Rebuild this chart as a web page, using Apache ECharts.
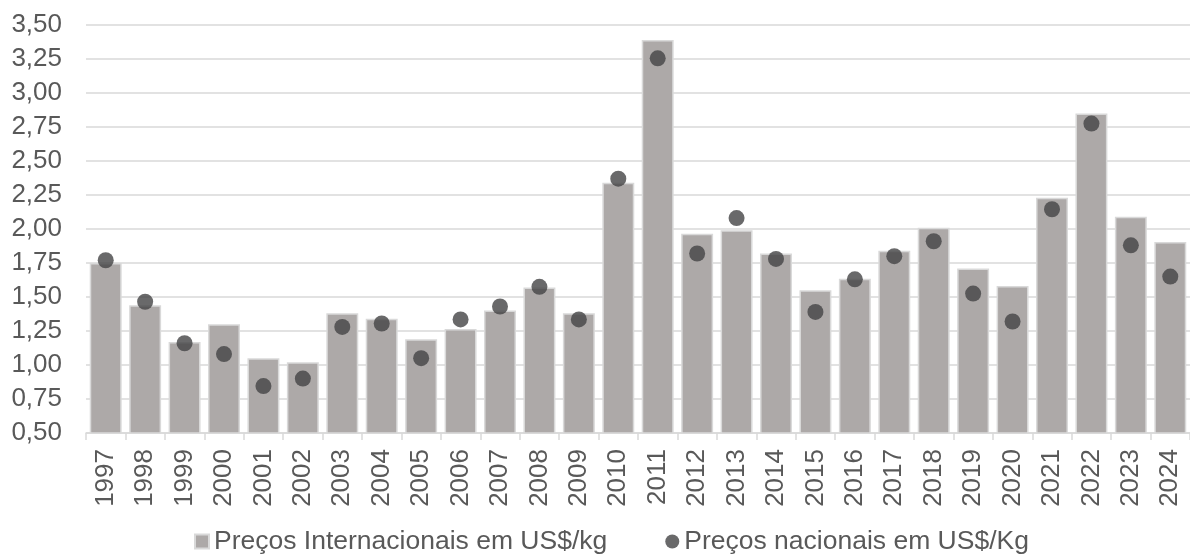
<!DOCTYPE html>
<html>
<head>
<meta charset="utf-8">
<script src="https://cdn.jsdelivr.net/npm/echarts@6/dist/echarts.min.js"></script>
<style>
  html, body { margin: 0; padding: 0; background: #ffffff; }
  #chart { width: 1190px; height: 554px; }
</style>
</head>
<body>
<div id="chart"></div>
<script>
// Years on the category axis
const years = ['1997','1998','1999','2000','2001','2002','2003','2004','2005','2006',
  '2007','2008','2009','2010','2011','2012','2013','2014','2015','2016',
  '2017','2018','2019','2020','2021','2022','2023','2024'];

// International prices, US$/kg (bars)
const internacionais = [1.75, 1.44, 1.17, 1.30, 1.05, 1.02, 1.38, 1.34, 1.19, 1.265,
  1.40, 1.57, 1.38, 2.34, 3.39, 1.965, 1.99, 1.82, 1.55, 1.635,
  1.84, 2.01, 1.71, 1.58, 2.23, 2.85, 2.09, 1.905];

// National prices, US$/kg (dots)
const nacionais = [1.77, 1.465, 1.16, 1.08, 0.845, 0.90, 1.28, 1.305, 1.05, 1.335,
  1.43, 1.575, 1.335, 2.37, 3.255, 1.82, 2.08, 1.78, 1.39, 1.63,
  1.80, 1.91, 1.525, 1.32, 2.145, 2.775, 1.88, 1.65];

// Value axis range and step
const yMin = 0.5, yMax = 3.5, yStep = 0.25;

const seriesNames = ['Preços Internacionais em US$/kg', 'Preços nacionais em US$/Kg'];

const font = "'Liberation Sans', Arial, sans-serif";
const textColor = '#595959';
const lineColor = '#d9d9d9';

const chart = echarts.init(document.getElementById('chart'), null, { renderer: 'canvas' });

chart.setOption({
  animation: false,
  backgroundColor: '#ffffff',
  textStyle: { fontFamily: font },
  grid: { left: 86, right: 0, top: 25, bottom: 121, containLabel: false },
  legend: {
    left: 189,
    top: 523,
    itemGap: 58,
    itemWidth: 14,
    itemHeight: 14,
    textStyle: { fontFamily: font, fontSize: 26.5, color: textColor },
    data: [
      { name: seriesNames[0], icon: 'rect' },
      { name: seriesNames[1], icon: 'circle' }
    ]
  },
  xAxis: {
    type: 'category',
    data: years,
    axisLine: { show: true, lineStyle: { color: lineColor, width: 1.5 } },
    axisTick: { show: true, length: 7, lineStyle: { color: lineColor, width: 1.5 } },
    axisLabel: {
      rotate: 90,
      fontFamily: font,
      fontSize: 26,
      color: textColor,
      margin: 16,
      interval: 0
    }
  },
  yAxis: {
    type: 'value',
    min: yMin,
    max: yMax,
    interval: yStep,
    axisLine: { show: false },
    axisTick: { show: false },
    splitLine: { lineStyle: { color: lineColor, width: 1.5 } },
    axisLabel: {
      fontFamily: font,
      fontSize: 26,
      color: textColor,
      margin: 24,
      formatter: v => v.toFixed(2).replace('.', ',')
    }
  },
  series: [
    {
      name: seriesNames[0],
      type: 'bar',
      data: internacionais,
      barWidth: '81%',
      itemStyle: { color: '#ada9a8', borderColor: lineColor, borderWidth: 1.5 }
    },
    {
      name: seriesNames[1],
      type: 'scatter',
      data: nacionais,
      symbol: 'circle',
      symbolSize: 16,
      itemStyle: { color: '#434345' },
      z: 3
    }
  ]
});
</script>
</body>
</html>
